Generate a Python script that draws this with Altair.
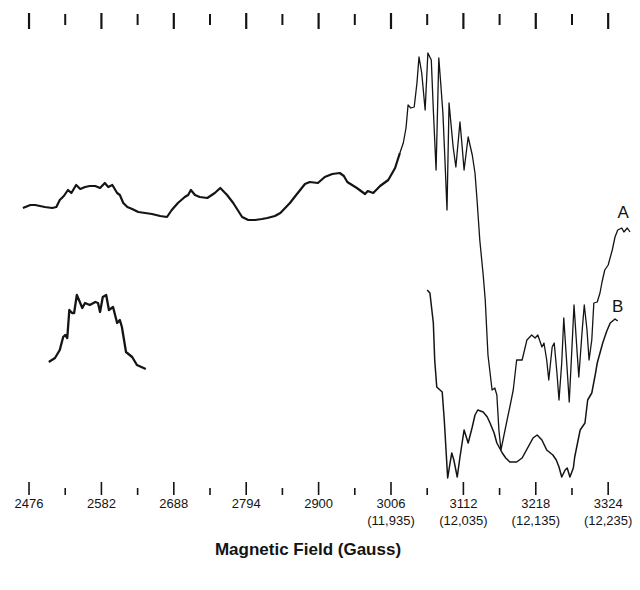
import altair as alt
import pandas as pd

# ---- data (field in gauss, signal in arbitrary units) ----
A_FIELD = [2467, 2478, 2485, 2492, 2499, 2510, 2516, 2521, 2527, 2533, 2538, 2545, 2551, 2558, 2565,
           2573, 2580, 2587, 2592, 2598, 2605, 2609, 2614, 2620, 2627, 2636, 2646, 2656, 2668, 2678,
           2685, 2694, 2704, 2709, 2713, 2719, 2726, 2737, 2748, 2756, 2766, 2775, 2788, 2797, 2807,
           2817, 2825, 2836, 2844, 2851, 2858, 2866, 2873, 2880, 2887, 2899, 2909, 2920, 2931, 2937,
           2942, 2949, 2956, 2968, 2972, 2980, 2990, 3002, 3012, 3019, 3024, 3028, 3031, 3035, 3040,
           3044, 3047, 3051, 3056, 3060, 3065, 3068, 3072, 3076, 3079, 3082, 3085, 3088, 3091, 3094,
           3097, 3101, 3107, 3110, 3113, 3119, 3125, 3129, 3132, 3136, 3141, 3144, 3148, 3154, 3158,
           3161, 3164, 3167, 3170, 3176, 3180, 3185, 3190, 3198, 3205, 3212, 3217, 3221, 3227, 3230,
           3234, 3237, 3242, 3245, 3249, 3252, 3256, 3259, 3264, 3267, 3271, 3274, 3278, 3281, 3286,
           3289, 3293, 3296, 3300, 3303, 3308, 3312, 3315, 3319, 3324, 3330, 3334, 3338, 3344, 3347,
           3352, 3356]
A_SIGNAL = [292, 295, 295, 294, 293, 292, 293, 300, 304, 310, 307, 315, 311, 313, 314,
            314, 312, 317, 313, 315, 307, 305, 297, 293, 291, 288, 287, 286, 284, 283,
            290, 297, 303, 305, 310, 305, 303, 302, 307, 312, 305, 297, 283, 280, 280,
            281, 282, 284, 287, 292, 297, 304, 310, 316, 318, 317, 323, 326, 327, 324,
            318, 315, 312, 306, 309, 307, 314, 320, 332, 347, 357, 372, 395, 392, 393,
            417, 443, 427, 390, 447, 440, 390, 330, 442, 415, 387, 340, 290, 397, 375,
            353, 333, 378, 355, 330, 363, 345, 327, 300, 260, 225, 200, 145, 110, 112,
            105, 70, 50, 60, 80, 93, 110, 140, 140, 160, 165, 162, 165, 153, 157,
            140, 120, 153, 157, 127, 100, 137, 182, 130, 98, 153, 195, 153, 123, 170,
            195, 170, 140, 160, 197, 198, 207, 218, 230, 235, 250, 263, 270, 272, 268,
            272, 268]

B_FIELD = [3059, 3063, 3068, 3070, 3073, 3081, 3084, 3087, 3089, 3092, 3095, 3098, 3103, 3107, 3113,
           3119, 3125, 3129, 3133, 3141, 3147, 3151, 3157, 3161, 3169, 3174, 3180, 3190, 3198, 3202,
           3210, 3214, 3220, 3227, 3234, 3243, 3248, 3252, 3256, 3261, 3264, 3268, 3273, 3275, 3283,
           3290, 3294, 3300, 3305, 3308, 3316, 3322, 3327, 3334, 3338]
B_SIGNAL = [210, 207, 177, 140, 113, 108, 80, 45, 22, 35, 47, 40, 23, 43, 70,
            57, 73, 85, 90, 88, 83, 77, 67, 57, 47, 42, 38, 38, 42, 47,
            57, 62, 65, 60, 50, 45, 40, 33, 23, 30, 32, 23, 32, 43, 70,
            77, 100, 107, 125, 137, 157, 169, 177, 181, 179]

C_FIELD = [2505, 2514, 2521, 2526, 2529, 2532, 2535, 2539, 2542, 2546, 2551, 2554, 2558, 2565,
           2573, 2577, 2580, 2584, 2589, 2593, 2599, 2605, 2609, 2612, 2618, 2627, 2634, 2647]
C_SIGNAL = [138, 142, 150, 163, 165, 162, 190, 187, 187, 205, 197, 192, 197, 195,
            198, 197, 188, 203, 205, 190, 193, 177, 180, 173, 148, 143, 135, 131]

MAJOR_TICKS = [2476, 2582, 2688, 2794, 2900, 3006, 3112, 3218, 3324]
MAJOR_LABELS = ["2476", "2582", "2688", "2794", "2900", "3006", "3112", "3218", "3324"]
MINOR_TICKS = [2529, 2635, 2741, 2847, 2953, 3059, 3165, 3271]
SECOND_FIELD = [3006, 3112, 3218, 3324]
SECOND_LABELS = ["(11,935)", "(12,035)", "(12,135)", "(12,235)"]
TOP_TALL = [2476, 2582, 2688, 2794, 2900, 3006, 3112, 3218, 3324]
TOP_SHORT = [2529, 2635, 2741, 2847, 2953, 3059, 3165, 3271]

CURVE_LABELS = ["A", "B"]
CURVE_LABEL_FIELD = [3346, 3338]
CURVE_LABEL_SIGNAL = [287, 193]

TITLE = "Magnetic Field (Gauss)"

# ---- build tables ----
dfA = pd.DataFrame({"field": A_FIELD, "signal": A_SIGNAL})
dfB = pd.DataFrame({"field": B_FIELD, "signal": B_SIGNAL})
dfC = pd.DataFrame({"field": C_FIELD, "signal": C_SIGNAL})
dfMaj = pd.DataFrame({"field": MAJOR_TICKS, "label": MAJOR_LABELS})
dfMin = pd.DataFrame({"field": MINOR_TICKS})
dfSec = pd.DataFrame({"field": SECOND_FIELD, "label": SECOND_LABELS})
dfTopT = pd.DataFrame({"field": TOP_TALL})
dfTopS = pd.DataFrame({"field": TOP_SHORT})
dfLab = pd.DataFrame({"field": CURVE_LABEL_FIELD, "signal": CURVE_LABEL_SIGNAL, "label": CURVE_LABELS})

INK = "#141414"
FONT = "Liberation Sans"

xs = alt.Scale(domain=[2433.5, 3370.6], nice=False, zero=False)
ys = alt.Scale(domain=[-90, 500], nice=False, zero=False)
X = alt.X("field:Q", scale=xs, axis=None)
Y = alt.Y("signal:Q", scale=ys, axis=None)

a_thick = alt.Chart(dfA).transform_filter("datum.field <= 3019").mark_line(
    color=INK, strokeWidth=2.2, strokeJoin="round").encode(x=X, y=Y)
a_thin = alt.Chart(dfA).transform_filter("datum.field >= 3019").mark_line(
    color=INK, strokeWidth=1.3, strokeJoin="round").encode(x=X, y=Y)
b_line = alt.Chart(dfB).mark_line(color=INK, strokeWidth=1.5, strokeJoin="round").encode(x=X, y=Y)
c_line = alt.Chart(dfC).mark_line(color=INK, strokeWidth=2.3, strokeJoin="round").encode(x=X, y=Y)

maj = alt.Chart(dfMaj).mark_rule(color=INK, strokeWidth=1.6).encode(
    x=X, y=alt.value(482), y2=alt.value(495))
minr = alt.Chart(dfMin).mark_rule(color=INK, strokeWidth=1.6).encode(
    x=X, y=alt.value(488), y2=alt.value(495))
top_t = alt.Chart(dfTopT).mark_rule(color=INK, strokeWidth=2.2).encode(
    x=X, y=alt.value(13), y2=alt.value(29))
top_s = alt.Chart(dfTopS).mark_rule(color=INK, strokeWidth=2.0).encode(
    x=X, y=alt.value(14), y2=alt.value(25))

lab1 = alt.Chart(dfMaj).mark_text(font=FONT, fontSize=13, color=INK, baseline="middle",
                                  align="center").encode(x=X, y=alt.value(504), text="label:N")
lab2 = alt.Chart(dfSec).mark_text(font=FONT, fontSize=13, color=INK, baseline="middle",
                                  align="center").encode(x=X, y=alt.value(521), text="label:N")
curve_lab = alt.Chart(dfLab).mark_text(font=FONT, fontSize=17, color=INK, baseline="middle",
                                       align="center").encode(x=X, y=Y, text="label:N")
title = alt.Chart(pd.DataFrame({"t": [TITLE]})).mark_text(
    font=FONT, fontSize=17, fontWeight="bold", color=INK, baseline="middle", align="center"
).encode(x=alt.value(308), y=alt.value(550), text="t:N")

chart = alt.layer(
    a_thick, a_thin, b_line, c_line, maj, minr, top_t, top_s, lab1, lab2, curve_lab, title
).properties(
    width=640, height=590, autosize=alt.AutoSizeParams(type="none"), padding=0,
    background="white"
).configure_view(stroke=None)

chart.save("out.html", embed_options={"renderer": "svg", "actions": False})
